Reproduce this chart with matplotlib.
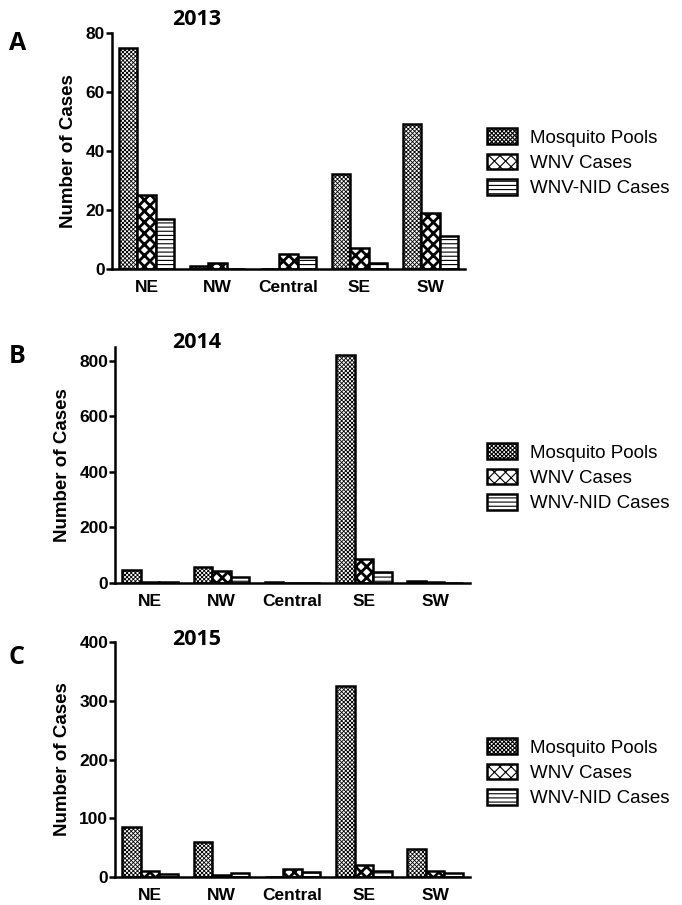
import numpy as np
import matplotlib
matplotlib.use('Agg')
import matplotlib.pyplot as plt

plt.rcParams['font.family'] = ['Liberation Sans', 'DejaVu Sans']

regions = ['NE', 'NW', 'Central', 'SE', 'SW']
series_names = ['Mosquito Pools', 'WNV Cases', 'WNV-NID Cases']

# values per year: mosquito pools, WNV cases, WNV-NID cases
pools_2013 = [75, 1, 0, 32, 49]
wnv_2013 = [25, 2, 5, 7, 19]
nid_2013 = [17, 0, 4, 2, 11]

pools_2014 = [47, 58, 3, 822, 7]
wnv_2014 = [3, 43, 1, 86, 3]
nid_2014 = [2, 21, 0, 40, 1]

pools_2015 = [85, 60, 0, 325, 48]
wnv_2015 = [11, 3, 13, 20, 10]
nid_2015 = [6, 7, 8, 11, 7]

years = ['2013', '2014', '2015']
letters = ['A', 'B', 'C']
ylims = [80, 850, 400]
yticks = [[0, 20, 40, 60, 80], [0, 200, 400, 600, 800], [0, 100, 200, 300, 400]]
data = [[pools_2013, wnv_2013, nid_2013],
        [pools_2014, wnv_2014, nid_2014],
        [pools_2015, wnv_2015, nid_2015]]

# (hatch, hatch linewidth)
styles = [('xxxxxxxx', 0.6), ('xxx', 2.0), ('----', 0.8)]

fig = plt.figure(figsize=(6.82, 9.05), dpi=100)
boxes = [[0.164, 0.703, 0.518, 0.2605],
         [0.169, 0.3558, 0.520, 0.2608],
         [0.169, 0.0309, 0.520, 0.2597]]
leg_y = [0.820, 0.472, 0.146]
title_y = [0.978, 0.621, 0.293]
letter_y = [0.952, 0.606, 0.273]

x = np.arange(len(regions))
w = 0.26
for k in range(3):
    ax = fig.add_axes(boxes[k])
    handles = []
    for s in range(3):
        plt.rcParams['hatch.linewidth'] = styles[s][1]
        b = ax.bar(x + (s - 1) * w, data[k][s], width=w, facecolor='white',
                   edgecolor='black', linewidth=1.8, hatch=styles[s][0],
                   label=series_names[s])
        handles.append(b)
    ax.set_xlim(-0.49, 4.49)
    ax.set_ylim(0, ylims[k])
    ax.set_yticks(yticks[k])
    ax.set_xticks(x)
    ax.set_xticklabels(regions)
    for sp in ['top', 'right']:
        ax.spines[sp].set_visible(False)
    for sp in ['left', 'bottom']:
        ax.spines[sp].set_linewidth(1.8)
    ax.tick_params(axis='x', length=0, pad=8)
    ax.tick_params(axis='y', length=4, width=1.8, pad=1)
    for lab in ax.get_xticklabels() + ax.get_yticklabels():
        lab.set_fontweight('bold')
        lab.set_fontsize(12.5)
    ax.set_ylabel('Number of Cases', fontsize=13.5, fontweight='bold', labelpad=6)
    fig.text(0.289, title_y[k], years[k], ha='center', va='center',
             fontsize=15.5, fontweight='bold', family=['Open Sans', 'DejaVu Sans'])
    fig.text(0.013, letter_y[k], letters[k], fontsize=18,
             fontweight='bold', family=['Open Sans', 'DejaVu Sans'], va='center')
    fig.legend(handles=handles, loc='center left', bbox_to_anchor=(0.714, leg_y[k]),
               frameon=False, fontsize=13.5, handlelength=1.6, handleheight=0.9,
               labelspacing=0.38, handletextpad=0.7, borderpad=0, borderaxespad=0)

fig.savefig('out.png', dpi=100)
